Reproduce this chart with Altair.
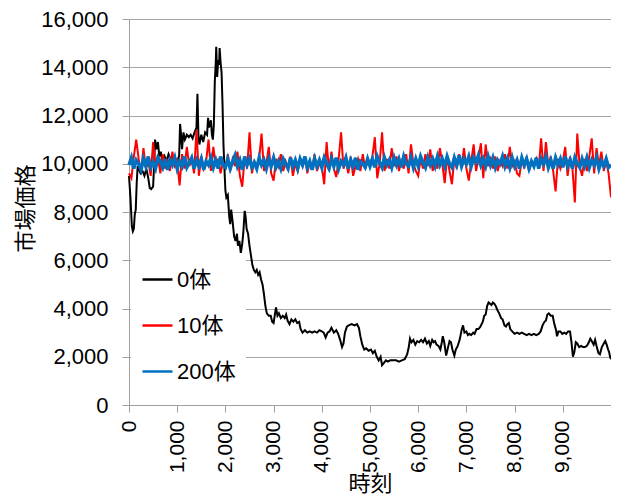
import altair as alt
import pandas as pd

series_names = ["0体", "10体", "200体"]
series_colors = ["#000000", "#FF0000", "#0070C0"]

# 0体 (black) : time points and market price
black_t = [0, 30, 60, 80, 100, 120, 140, 160, 180, 200, 240, 280, 320, 360, 400, 430, 460, 500, 520, 540,
           570, 600, 630, 660, 700, 740, 780, 820, 860, 900, 950, 1000, 1040, 1060, 1080, 1100, 1130, 1160, 1200, 1240,
           1280, 1320, 1360, 1400, 1420, 1440, 1460, 1500, 1540, 1580, 1620, 1640, 1660, 1700, 1720, 1740, 1760, 1780, 1800, 1810,
           1830, 1850, 1870, 1880, 1900, 1920, 1940, 1960, 1980, 2000, 2020, 2050, 2080, 2100, 2120, 2150, 2180, 2210, 2240, 2260,
           2290, 2320, 2350, 2370, 2400, 2420, 2440, 2470, 2500, 2530, 2560, 2590, 2620, 2650, 2680, 2710, 2740, 2770, 2800, 2830,
           2860, 2900, 2940, 2970, 3000, 3030, 3050, 3080, 3110, 3150, 3190, 3230, 3260, 3290, 3330, 3370, 3410, 3450, 3490, 3530,
           3560, 3600, 3650, 3700, 3750, 3800, 3850, 3900, 3950, 4000, 4040, 4080, 4120, 4160, 4200, 4250, 4300, 4340, 4380, 4420,
           4450, 4480, 4520, 4560, 4620, 4680, 4730, 4770, 4800, 4840, 4880, 4920, 4970, 5020, 5060, 5100, 5140, 5180, 5220, 5250,
           5290, 5330, 5370, 5420, 5480, 5540, 5600, 5660, 5720, 5770, 5800, 5830, 5860, 5900, 5940, 5980, 6020, 6060, 6100, 6140,
           6180, 6220, 6250, 6290, 6320, 6350, 6380, 6420, 6460, 6490, 6510, 6540, 6580, 6620, 6650, 6680, 6710, 6750, 6780, 6820,
           6860, 6900, 6930, 6960, 7000, 7030, 7060, 7100, 7140, 7170, 7210, 7250, 7290, 7340, 7370, 7400, 7430, 7460, 7490, 7520,
           7550, 7580, 7610, 7640, 7680, 7720, 7750, 7790, 7820, 7850, 7880, 7910, 7950, 8000, 8050, 8100, 8150, 8200, 8250, 8300,
           8350, 8400, 8450, 8500, 8540, 8580, 8620, 8650, 8680, 8710, 8750, 8790, 8820, 8860, 8880, 8910, 8950, 8990, 9030, 9070,
           9110, 9150, 9180, 9210, 9240, 9270, 9300, 9340, 9380, 9420, 9460, 9500, 9540, 9570, 9600, 9640, 9670, 9700, 9740, 9770,
           9810, 9850, 9880, 9910, 9940, 9960, 9980, 10000]
black_v = [9500, 8600, 7400, 7200, 7300, 7900, 8100, 9200, 9900, 9800, 9600, 9700, 9500, 9800, 9400, 9000, 8950, 9050, 9900, 11000,
           10600, 10900, 10300, 10500, 10000, 10300, 10100, 10400, 10200, 10100, 10200, 10150, 10300, 11650, 11200, 10600, 11300, 11000, 11200, 11100,
           11200, 11050, 11300, 11500, 12900, 11200, 10800, 11200, 10900, 11300, 11200, 11900, 11500, 11800, 11200, 11000, 11600, 13400, 14200, 14850,
           13600, 14300, 14100, 14800, 14200, 13800, 12500, 10800, 9800, 8900, 8600, 8700, 7800, 7500, 8100, 7600, 7000, 6800, 7100, 6600,
           6800, 6300, 6700, 7100, 8050, 7800, 7300, 7100, 6600, 6200, 5800, 5600, 5500, 5600, 5400, 5500, 5200, 5000, 4600, 4100,
           3800, 3700, 3700, 3450, 3400, 3800, 4050, 3700, 3800, 3600, 3700, 3600, 3750, 3500, 3350, 3550, 3450, 3550, 3400, 3450,
           3150, 3000, 3100, 3000, 3050, 3000, 3050, 3000, 3100, 3050, 3000, 2800, 3000, 3050, 3200, 3000, 3100, 2950, 2700, 2400,
           2550, 3000, 3250, 3300, 3350, 3300, 3350, 3200, 2850, 2500, 2300, 2350, 2250, 2300, 2150, 2250, 2000, 1850, 2000, 1650,
           1750, 1850, 1800, 1850, 1850, 1850, 1800, 1850, 1900, 2100, 2350, 2750, 2600, 2700, 2500, 2650, 2600, 2700, 2600, 2750,
           2550, 2650, 2450, 2700, 2600, 2650, 2500, 2450, 2300, 2600, 2850, 2600, 2050, 2400, 2650, 2600, 2300, 2050, 2300, 2450,
           2700, 3100, 3300, 3000, 3050, 2900, 2950, 2900, 3000, 2950, 3150, 3150, 3250, 3450, 3700, 3750, 4100, 4250, 4200, 4150,
           4250, 4200, 4100, 3950, 3800, 3600, 3550, 3300, 3250, 3350, 3400, 3150, 3050, 2950, 3000, 2950, 3000, 2950, 2900, 2950,
           2900, 2950, 2900, 2950, 3050, 3300, 3450, 3500, 3750, 3800, 3700, 3700, 3400, 3100, 2850, 3050, 3050, 2950, 3000, 2950,
           3050, 3050, 2600, 2000, 2200, 2600, 2550, 2400, 2450, 2400, 2400, 2450, 2600, 2750, 2650, 2500, 2700, 2450, 2150, 2100,
           2400, 2550, 2650, 2500, 2300, 2200, 2000, 1900]

# 10体 (red) and 200体 (blue): one value every 50 time steps
step_t = list(range(0, 10001, 50))
red_v = [9600, 9400, 10300, 11000, 10200, 9700, 10650, 9800, 10100, 9500,
         10900, 9900, 10300, 9600, 10400, 9800, 10200, 9700, 10500, 9900,
         10100, 9100, 10400, 9800, 10700, 9900, 10200, 9600, 11400, 9500,
         10300, 9800, 10100, 11000, 9700, 10700, 9900, 10200, 9600, 10100,
         9800, 10400, 9700, 10200, 9900, 10500, 9500, 9050, 10300, 9800,
         11300, 9600, 10100, 9900, 10200, 11250, 9700, 10000, 10700, 9600,
         9300, 10200, 9900, 10400, 9700, 10100, 9800, 10300, 9500, 10000,
         9700, 10200, 9900, 10300, 9600, 10100, 9800, 10400, 9700, 10000,
         9900, 9150, 10900, 9700, 10500, 9800, 9450, 10200, 11300, 9800,
         10100, 9600, 10300, 9500, 9900, 10200, 9700, 10400, 9800, 10100,
         9900, 10300, 11100, 9400, 10000, 11300, 9700, 10200, 9800, 10650,
         9900, 10300, 9700, 10100, 9800, 10400, 9600, 10800, 10000, 9700,
         9500, 10200, 9800, 10400, 9900, 10600, 9700, 10100, 9800, 10650,
         10000, 9200, 10300, 9700, 9150, 10200, 9800, 10400, 9900, 10650,
         9800, 9300, 10100, 10800, 9700, 10200, 10850, 9400, 10800, 9900,
         10200, 9800, 10300, 9700, 10100, 9900, 10400, 9800, 10700, 9900,
         10100, 9600, 9500, 10200, 9800, 10300, 9700, 10100, 9900, 10200,
         9800, 11050, 9700, 10900, 9900, 10300, 9700, 8850, 10200, 9800,
         10100, 10700, 9500, 10300, 9800, 8400, 11250, 9900, 9500, 10200,
         9700, 10300, 11050, 9600, 10650, 9900, 10500, 9700, 10100, 9600,
         8600]
blue_v = [9950, 10250, 9800, 10150, 10000, 9750, 10200, 9900, 10300, 9850,
          10050, 9800, 10250, 10100, 9850, 10200, 9750, 10150, 9950, 10250,
          9800, 10100, 9900, 10300, 9850, 10050, 10250, 9800, 10150, 9900,
          10200, 9750, 10100, 9950, 10250, 9850, 10150, 9800, 10300, 9950,
          9850, 10200, 9800, 10100, 10350, 9900, 10150, 9750, 10300, 9950,
          10200, 9850, 10050, 9800, 10250, 9950, 10150, 9800, 10200, 9900,
          10250, 9850, 10100, 9800, 10200, 10000, 9800, 10250, 9900, 10150,
          9800, 10200, 9950, 10300, 9850, 10100, 9750, 10200, 9900, 10150,
          9850, 10250, 10000, 9800, 10200, 9900, 10250, 9800, 10100, 9950,
          10250, 9800, 10150, 9900, 10250, 9750, 10100, 10000, 9850, 10200,
          9900, 10200, 9850, 10300, 10050, 9850, 10250, 9950, 10150, 9850,
          10250, 9950, 10200, 9850, 10300, 10000, 9900, 10250, 9850, 10200,
          9900, 10300, 10050, 9850, 10250, 9950, 10200, 9900, 10300, 9950,
          10200, 9900, 10300, 10000, 9850, 10250, 9950, 10350, 9900, 10200,
          10000, 10300, 9900, 10250, 10050, 10350, 9950, 10200, 9900, 10300,
          9950, 10250, 9850, 10150, 10000, 10300, 9900, 10200, 9850, 10250,
          9900, 10150, 9800, 10250, 9950, 10200, 9800, 10100, 9900, 10250,
          9800, 10200, 10000, 10300, 9850, 10150, 9800, 10250, 9950, 10200,
          9850, 10300, 9900, 10150, 9800, 10250, 10000, 9850, 10200, 9900,
          10250, 9850, 10150, 9950, 10250, 9800, 10100, 9900, 10200, 9850,
          9950]

x_ticks = list(range(0, 10001, 1000))
y_ticks = list(range(0, 16001, 2000))

FONT = "Liberation Sans, Arial, Noto Sans CJK JP"

df_black = pd.DataFrame({"t": black_t, "price": black_v, "series": series_names[0]})
df_red = pd.DataFrame({"t": step_t, "price": red_v, "series": series_names[1]})
df_blue = pd.DataFrame({"t": step_t, "price": blue_v, "series": series_names[2]})

color = alt.Color(
    "series:N",
    scale=alt.Scale(domain=series_names, range=series_colors),
    legend=alt.Legend(
        orient="none", legendX=2, legendY=234, title=None,
        symbolType="stroke", symbolSize=900, symbolStrokeWidth=2.5,
        labelFontSize=22, labelFont=FONT, labelColor="#000000",
        labelOffset=3, rowPadding=18, padding=10, fillColor="white",
    ),
)

x_enc = alt.X(
    "t:Q",
    scale=alt.Scale(domain=[0, 10000], nice=False, zero=True),
    axis=alt.Axis(
        values=x_ticks, labelAngle=270,
        labelExpr="datum.value >= 10000 ? '' : format(datum.value, ',')",
        grid=False, title="時刻", titleFontSize=22, titleFont=FONT,
        titleFontWeight="normal", titleColor="#000000",
        titleX=241, titleY=78, titleBaseline="middle",
        labelFontSize=21, labelFont=FONT, labelColor="#000000",
        labelPadding=8, tickSize=7, tickColor="#a0a0a0",
        domainColor="#a0a0a0",
    ),
)
y_enc = alt.Y(
    "price:Q",
    scale=alt.Scale(domain=[0, 16000], nice=False),
    axis=alt.Axis(
        values=y_ticks, format=",.0f", grid=True, gridColor="#a6a6a6",
        title="市場価格", titleFontSize=22, titleFont=FONT,
        titleFontWeight="normal", titleColor="#000000",
        titleX=-104, titleY=189, titleBaseline="middle", titleAlign="center",
        labelFontSize=22, labelFont=FONT, labelColor="#000000",
        labelPadding=14, tickSize=7, tickColor="#a0a0a0",
        domainColor="#a0a0a0",
    ),
)

l_black = alt.Chart(df_black).mark_line(strokeWidth=2).encode(x=x_enc, y=y_enc, color=color)
l_red = alt.Chart(df_red).mark_line(strokeWidth=2).encode(x=x_enc, y=y_enc, color=color)
l_blue = alt.Chart(df_blue).mark_line(strokeWidth=3.5).encode(x=x_enc, y=y_enc, color=color)

chart = (
    alt.layer(l_black, l_red, l_blue)
    .properties(
        width=482, height=386,
        autosize=alt.AutoSizeParams(type="none"),
        padding={"left": 121, "top": 11, "right": 0, "bottom": 90},
        background="white",
    )
    .configure_view(stroke=None)
)

chart.save("out.html", embed_options={"renderer": "svg", "actions": False})
